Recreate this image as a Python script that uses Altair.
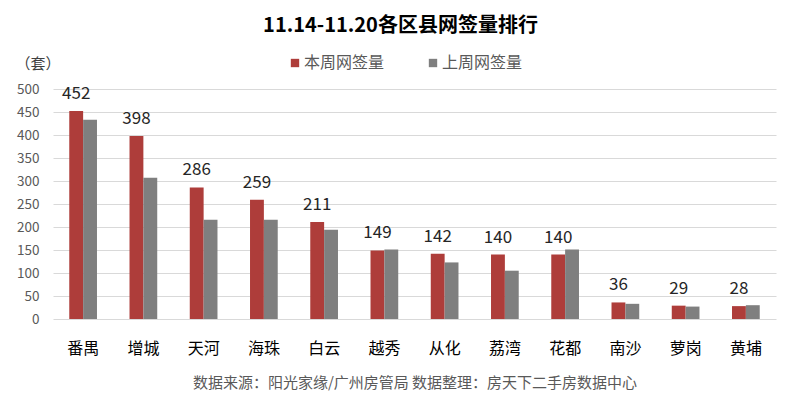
import altair as alt
import pandas as pd

districts = ["番禺", "增城", "天河", "海珠", "白云", "越秀", "从化", "荔湾", "花都", "南沙", "萝岗", "黄埔"]
this_week = [452, 398, 286, 259, 211, 149, 142, 140, 140, 36, 29, 28]
last_week = [433, 307, 216, 216, 194, 151, 123, 105, 151, 33, 27, 30]
series_names = ["本周网签量", "上周网签量"]
series_colors = ["#AE3D3A", "#7F7F7F"]
y_ticks = [0, 50, 100, 150, 200, 250, 300, 350, 400, 450, 500]

title_text = "11.14-11.20各区县网签量排行"
unit_text = "（套）"
footer_text = "数据来源：阳光家缘/广州房管局  数据整理：房天下二手房数据中心"

rows = []
for d, a, b in zip(districts, this_week, last_week):
    rows.append({"district": d, "series": series_names[0], "value": a})
    rows.append({"district": d, "series": series_names[1], "value": b})
df = pd.DataFrame(rows)

FONT = "Noto Sans CJK SC"

x_enc = alt.X(
    "district:N",
    sort=districts,
    scale=alt.Scale(paddingInner=0.54, paddingOuter=0.27),
    axis=alt.Axis(
        title=footer_text,
        labelAngle=0,
        labelFontSize=16,
        labelColor="#000000",
        labelPadding=21,
        ticks=False,
        domain=False,
        titleFontSize=15,
        titleFontWeight="normal",
        titleColor="#595959",
        titlePadding=19,
    ),
)
y_enc = alt.Y(
    "value:Q",
    scale=alt.Scale(domain=[0, 500], nice=False),
    axis=alt.Axis(
        values=y_ticks,
        tickCount=11,
        labelOverlap=False,
        grid=True,
        gridColor="#D9D9D9",
        domain=False,
        ticks=False,
        labelFontSize=13.5,
        labelColor="#595959",
        labelPadding=14,
        title=unit_text,
        titleAngle=0,
        titleX=-38,
        titleY=-26,
        titleAlign="left",
        titleBaseline="middle",
        titleFontSize=15,
        titleFontWeight="normal",
        titleColor="#404040",
    ),
)
xoff = alt.XOffset("series:N", sort=series_names,
                   scale=alt.Scale(domain=series_names, paddingInner=0, paddingOuter=0))

bars = alt.Chart(df).mark_bar().encode(
    x=x_enc,
    y=y_enc,
    xOffset=xoff,
    color=alt.Color(
        "series:N",
        sort=series_names,
        scale=alt.Scale(domain=series_names, range=series_colors),
        legend=alt.Legend(
            title=None,
            orient="none",
            legendX=234,
            legendY=-34,
            direction="horizontal",
            symbolType="square",
            symbolSize=70,
            symbolStrokeWidth=0,
            labelFontSize=16,
            labelColor="#595959",
            columnPadding=40,
            labelOffset=1,
        ),
    ),
)

labels = alt.Chart(df).transform_filter(
    alt.datum.series == series_names[0]
).mark_text(baseline="bottom", dy=-8, fontSize=17, color="#262626").encode(
    x=x_enc,
    y=y_enc,
    xOffset=xoff,
    text=alt.Text("value:Q"),
)

chart = alt.layer(bars, labels).properties(
    width=723,
    height=230,
    autosize=alt.AutoSizeParams(type="none"),
    padding={"left": 45, "top": 81, "right": 16, "bottom": 88},
    title=alt.Title(
        title_text,
        fontSize=20,
        fontWeight="bold",
        color="#000000",
        anchor="middle",
        dx=-14,
        offset=19,
    ),
).configure(font=FONT).configure_view(stroke=None)

chart.save("out.html", embed_options={"renderer": "svg", "actions": False})
